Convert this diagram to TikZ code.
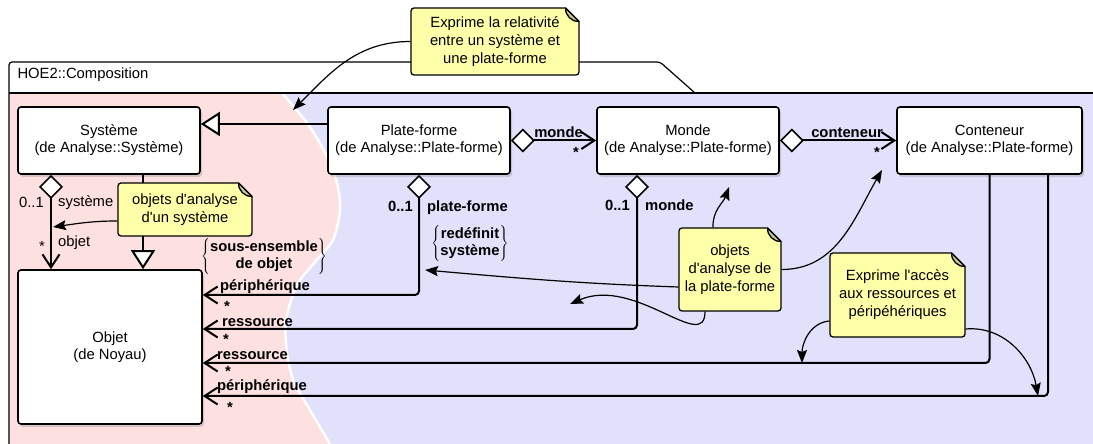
\documentclass[tikz,border=0pt]{standalone}
\usepackage{fontspec}
\setmainfont{Liberation Sans}
\usepackage{xcolor}
\definecolor{cPink}{HTML}{FDE1E1}
\definecolor{cLav}{HTML}{E1E1FB}
\definecolor{cNote}{HTML}{FFFFAA}
\definecolor{cFold}{HTML}{C4C48E}
\usepackage{tikz}
\usetikzlibrary{positioning, arrows.meta, shadows, calc}

% coin replie d'une note : nom du noeud, couleur du fond
\newcommand{\notefold}[2]{%
  \fill[#2] ($(#1.north east)+(-15,1)$) -- ($(#1.north east)+(1,1)$) -- ($(#1.north east)+(1,-15)$) -- cycle;
  \filldraw[fill=cFold, draw=black, line width=1.3pt, line join=round]
    ($(#1.north east)+(-14,-0.65)$) to[out=-95, in=185] ($(#1.north east)+(-0.65,-14)$) -- cycle;}

\begin{document}
\begin{tikzpicture}[x=1pt, y=1pt,
    every node/.style={font=\fontsize{14.8}{17}\selectfont},
    cls/.style={draw, line width=1.6pt, rounded corners=3pt, fill=white, align=center,
                minimum width=182pt, minimum height=67pt, inner sep=0pt,
                drop shadow={shadow xshift=2pt, shadow yshift=-3pt, opacity=0.3}},
    note/.style={draw, line width=1.3pt, rounded corners=3pt, fill=cNote, align=center,
                 inner sep=0pt, font=\fontsize{14.8}{18}\selectfont},
    lbl/.style={inner sep=0pt, font=\fontsize{14.8}{17}\selectfont\bfseries},
    nlbl/.style={inner sep=0pt},
    agg/.style={line width=2pt, rounded corners=4pt,
                {Diamond[length=24pt, width=24pt, fill=white, line width=1.6pt]}-{Straight Barb[length=13pt, width=17pt]}},
    assoc/.style={line width=2pt, rounded corners=4pt, -{Straight Barb[length=13pt, width=17pt]}},
    gen/.style={line width=2pt, -{Triangle[length=19pt, width=24pt, fill=white]}},
    ann/.style={line width=1.2pt, -{Stealth[length=13pt, width=10pt, inset=2pt]}}
]
\useasboundingbox (0,0) rectangle (1093,444);

% fond du paquetage
\fill[cPink] (9,0) rectangle (1093,351);
\fill[cLav] plot[smooth] coordinates {(282,351) (310,317) (327,287) (337,261) (340,234) (333,204) (315,182) (297,159) (286,124) (287,91) (294,62) (310,34) (330,0)}
  -- (1093,0) -- (1093,351) -- cycle;
\draw[white, line width=2.5pt] plot[smooth] coordinates {(282,351) (310,317) (327,287) (337,261) (340,234) (333,204) (315,182) (297,159) (286,124) (287,91) (294,62) (310,34) (330,0)};
\draw[line width=1.2pt, rounded corners=3pt] (9,-5) -- (9,382) -- (660,382) -- (695,351);
\draw[line width=1.2pt] (9,351) -- (1100,351);
\node[anchor=west] (pkg) at (14,369) {HOE2::Composition};

% classes
\node[cls] (sys) at (109,303.5) {Système\\(de Analyse::Système)};
\node[cls] (plat) at (419,303.5) {Plate-forme\\(de Analyse::Plate-forme)};
\node[cls] (monde) at (688,303.5) {Monde\\(de Analyse::Plate-forme)};
\node[cls, minimum width=185pt] (cont) at (989.5,303.5) {Conteneur\\(de Analyse::Plate-forme)};
\node[cls, minimum width=184pt, minimum height=154pt] (objet) at (110,97) {Objet\\(de Noyau)};

% relations
\draw[gen] ([yshift=16.5pt]plat.west) -- ([yshift=16.5pt]sys.east);
\draw[agg] (plat.east) -- (monde.west);
\draw[agg] (monde.east) -- (cont.west);
\draw[agg] ([xshift=-58pt]sys.south) -- ([xshift=-59pt]objet.north);
\draw[gen] ([xshift=34pt]sys.south) -- ([xshift=33pt]objet.north);
\draw[agg] (plat.south) |- ([yshift=52pt]objet.east);
\draw[agg] ([xshift=-51pt]monde.south) |- ([yshift=18pt]objet.east);
\draw[assoc] (cont.south) |- ([yshift=-16pt]objet.east);
\draw[assoc] ([xshift=58.5pt]cont.south) |- ([yshift=-49pt]objet.east);

% roles et multiplicites
\node[lbl, anchor=base east] (rMonde) at (583,306) {monde};
\node[lbl, anchor=base] (mMonde) at (576,286.5) {*};
\node[lbl, anchor=base east] (rCont) at (883,306) {conteneur};
\node[lbl, anchor=base] (mCont) at (877,286) {*};
\node[nlbl, anchor=base east] (mSys) at (44,236) {0..1};
\node[nlbl, anchor=base west] (rSys) at (58,237) {système};
\node[nlbl, anchor=base] (mObj) at (42,192.5) {*};
\node[nlbl, anchor=base west] (rObj) at (58,197) {objet};
\node[lbl] (cSub) at (264,187) {$\left\{\begin{tabular}{@{}c@{}}sous-ensemble\\de objet\end{tabular}\right\}$};
\node[lbl, anchor=base east] (mPlat) at (413,232) {0..1};
\node[lbl, anchor=base west] (rPlat) at (427,232) {plate-forme};
\node[lbl] (cRedef) at (470,200) {$\left\{\begin{tabular}{@{}c@{}}redéfinit\\système\end{tabular}\right\}$};
\node[lbl, anchor=base east] (mMon) at (630,233) {0..1};
\node[lbl, anchor=base west] (rMon) at (645,233) {monde};
\node[lbl, anchor=base west] (rPer) at (220,153) {périphérique};
\node[lbl, anchor=base] (mPer) at (227,132) {*};
\node[lbl, anchor=base west] (rRes) at (222,117.3) {ressource};
\node[lbl, anchor=base] (mRes) at (226,99) {*};
\node[lbl, anchor=base west] (rRes2) at (217,84) {ressource};
\node[lbl, anchor=base] (mRes2) at (228,67) {*};
\node[lbl, anchor=base west] (rPer2) at (217,53) {périphérique};
\node[lbl, anchor=base] (mPer2) at (230,31) {*};

% notes
\node[note, minimum width=168pt, minimum height=67pt] (nRel) at (495,402.5) {Exprime la relativité\\entre un système et\\une plate-forme};
\notefold{nRel}{white}
\node[note, minimum width=134pt, minimum height=53pt] (nSys) at (185,234.5) {objets d\textquotesingle analyse\\d\textquotesingle un système};
\notefold{nSys}{cPink}
\node[note, minimum width=102pt, minimum height=83pt] (nPlat) at (730,174.5) {objets\\d\textquotesingle analyse de\\la plate-forme};
\notefold{nPlat}{cLav}
\node[note, minimum width=135pt, minimum height=84pt] (nAcc) at (897.5,149) {Exprime l\textquotesingle accès\\aux ressources et\\péripéhériques};
\notefold{nAcc}{cLav}

% liens des notes
\coordinate (tGen) at (293,334);
\draw[ann] (nRel.west) to[out=180, in=45] (tGen);
\coordinate (tSys) at (53,217);
\draw[ann] ([yshift=-11.5pt]nSys.west) to[out=180, in=8] (tSys);
\coordinate (tMonde) at (729,257);
\draw[ann] ([xshift=-17pt]nPlat.north) to[out=92, in=250] (tMonde);
\coordinate (tCont) at (882,274);
\draw[ann] (nPlat.east) to[out=0, in=240] (tCont);
\coordinate (tPer) at (425,174);
\draw[ann] ([yshift=-17.5pt]nPlat.west) to[out=178, in=-5] (tPer);
\coordinate (tRes) at (570,140);
\draw[ann] ([xshift=-25pt]nPlat.south) .. controls (705,90) and (635,168) .. (tRes);
\coordinate (tRes2) at (802,81);
\draw[ann] ([yshift=-26pt]nAcc.west) to[out=185, in=90] (tRes2);
\coordinate (tPer2) at (1038,48);
\draw[ann] ([yshift=-34pt]nAcc.east) to[out=5, in=100] (tPer2);
\end{tikzpicture}
\end{document}
